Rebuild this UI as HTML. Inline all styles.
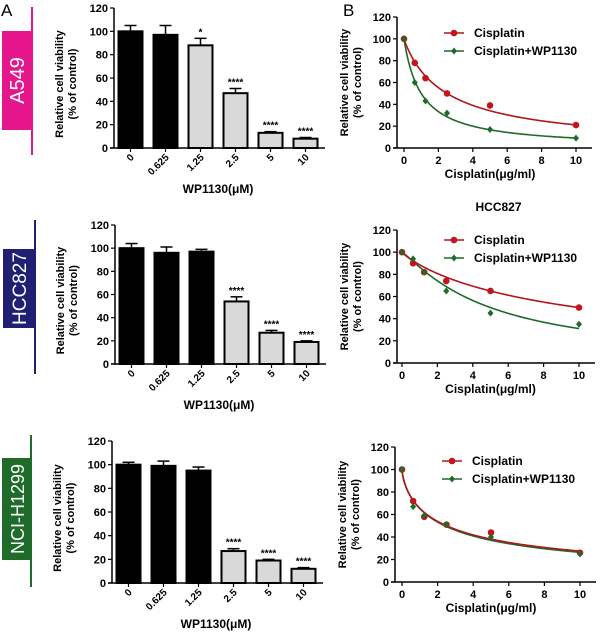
<!DOCTYPE html>
<html><head><meta charset="utf-8">
<style>
html,body{margin:0;padding:0;background:#fff;}
svg{display:block;font-family:"Liberation Sans",Arial,sans-serif;}
</style></head>
<body>
<svg id="fig" width="600" height="635" viewBox="0 0 600 635"></svg>
<script>
// ---- data ----
const doseLabels = ["0","0.625","1.25","2.5","5","10"];
const a549Values = [100,97,88,47,13,8];
const a549Errors = [5,8,6,4,1,1];
const a549Stars = ["","","*","****","****","****"];
const hccValues = [100,96,97,54,27,19];
const hccErrors = [4,5,2,4,2,1];
const hccStars = ["","","","****","****","****"];
const nciValues = [100,99,95,27,19,12];
const nciErrors = [2,4,3,2,1,1];
const nciStars = ["","","","****","****","****"];
const yTicks = [0,20,40,60,80,100,120];
const xTicksB = [0,2,4,6,8,10];
const cisX = [0,0.625,1.25,2.5,5,10];
const b1Cis = [100,78,64,50,39,21];
const b1Combo = [100,60,43,32,17,9];
const b2Cis = [100,90,82,74,65,50];
const b2Combo = [100,94,82,65,45,35];
const b3Cis = [100,72,58,51,44,26];
const b3Combo = [100,67,59,51,40,25];
// fit parameters [ic50, hill] for each curve
const b1CisFit = [2.5,0.95], b1ComboFit = [1.0,1.0];
const b2CisFit = [10,0.89], b2ComboFit = [5,1.15];
const b3CisFit = [2.5,0.7], b3ComboFit = [2.4,0.72];

const NS="http://www.w3.org/2000/svg";
const svg=document.getElementById('fig');
function el(tag,attrs,parent,text){const e=document.createElementNS(NS,tag);for(const k in attrs)e.setAttribute(k,attrs[k]);if(text!==undefined)e.textContent=text;(parent||svg).appendChild(e);return e;}

let t=el('text',{x:1,y:16,'font-size':17},svg,'A');


t=el('text',{x:343,y:16,'font-size':17},svg,'B');



function tag(name,label,color,lx,ly1,ly2,bx,by,bw,bh,fs){
  const g=el('g',{});
  
  
  el('line',{x1:lx,y1:ly1,x2:lx,y2:ly2,stroke:color,'stroke-width':2},g);
  el('rect',{x:bx,y:by,width:bw,height:bh,fill:color},g);
  el('text',{x:0,y:0,fill:'#fff','font-size':fs,'text-anchor':'middle',transform:`translate(${bx+bw/2+7},${by+bh/2}) rotate(-90)`},g,label);
}
tag('a549-tag','A549','#e5168c',32,7,155,2,31,30,99,20);
tag('hcc827-tag','HCC827','#1f1f73',35,220,374,3,249,32,79,19);
tag('nci-h1299-tag','NCI-H1299','#1e6b2a',31,435,587,2,458,30,102,18);

function yLabel(g,cx,cy){
  el('text',{x:0,y:0,'font-size':11,'font-weight':'bold','text-anchor':'middle',transform:`translate(${cx-6},${cy}) rotate(-90)`},g,'Relative cell viability');
  el('text',{x:0,y:0,'font-size':11,'font-weight':'bold','text-anchor':'middle',transform:`translate(${cx+7},${cy}) rotate(-90)`},g,'(% of control)');
}

function barChart(name,ax,y0,y120,vals,errs,stars){
  const g=el('g',{});
  
  
  const ys=v=>y0-(y0-y120)*v/120;
  const xc=i=>ax+16.5+i*35;
  el('line',{x1:ax,y1:y120,x2:ax,y2:y0,stroke:'#000','stroke-width':1.5},g);
  el('line',{x1:ax-4,y1:y0,x2:ax+211,y2:y0,stroke:'#000','stroke-width':1.5},g);
  yTicks.forEach(v=>{
    el('line',{x1:ax-4,y1:ys(v),x2:ax,y2:ys(v),stroke:'#000','stroke-width':1.2},g);
    el('text',{x:ax-6,y:ys(v)+4,'font-size':11,'font-weight':'bold','text-anchor':'end'},g,String(v));
  });
  yLabel(g,ax-45,(y0+y120)/2+6);
  vals.forEach((v,i)=>{
    const x=xc(i),top=ys(v),etop=ys(v+errs[i]);
    const grey=i>=3||(name==='a549-bars'&&i===2);
    el('line',{x1:x,y1:etop,x2:x,y2:top,stroke:'#000','stroke-width':1.5},g);
    el('line',{x1:x-6,y1:etop,x2:x+6,y2:etop,stroke:'#000','stroke-width':1.5},g);
    const r=el('rect',{x:x-12,y:top,width:24,height:y0-top,fill:grey?'#d9d9d9':'#000',stroke:'#000','stroke-width':2},g);
    
    
    if(stars[i]) el('text',{x:x,y:etop-3,'font-size':10,'font-weight':'bold','text-anchor':'middle'},g,stars[i]);
    el('line',{x1:x,y1:y0,x2:x,y2:y0+4,stroke:'#000','stroke-width':1.2},g);
    el('text',{x:0,y:0,'font-size':10,'font-weight':'bold','text-anchor':'end',transform:`translate(${x+4},${y0+10}) rotate(-45)`},g,doseLabels[i]);
  });
  el('text',{x:ax+104,y:y0+45,'font-size':12,'font-weight':'bold','text-anchor':'middle'},g,'WP1130(μM)');
}
barChart('a549-bars',114,148,8,a549Values,a549Errors,a549Stars);
barChart('hcc827-bars',115,364,225,hccValues,hccErrors,hccStars);
barChart('nci-h1299-bars',112,583,441,nciValues,nciErrors,nciStars);

function curveChart(name,ax,y0,y120,x0,x10,cis,combo,cf,gf,title,legY){
  const g=el('g',{});
  
  
  const ys=v=>y0-(y0-y120)*v/120;
  const xs=v=>x0+(x10-x0)*v/10;
  el('line',{x1:ax,y1:y120,x2:ax,y2:y0,stroke:'#000','stroke-width':1.5},g);
  el('line',{x1:ax-4,y1:y0,x2:x10+16,y2:y0,stroke:'#000','stroke-width':1.5},g);
  yTicks.forEach(v=>{
    el('line',{x1:ax-4,y1:ys(v),x2:ax,y2:ys(v),stroke:'#000','stroke-width':1.2},g);
    el('text',{x:ax-6,y:ys(v)+4,'font-size':11,'font-weight':'bold','text-anchor':'end'},g,String(v));
  });
  xTicksB.forEach(v=>{
    el('line',{x1:xs(v),y1:y0,x2:xs(v),y2:y0+4,stroke:'#000','stroke-width':1.2},g);
    el('text',{x:xs(v),y:y0+16,'font-size':11,'font-weight':'bold','text-anchor':'middle'},g,String(v));
  });
  yLabel(g,ax-43,(y0+y120)/2);
  el('text',{x:(x0+x10)/2,y:y0+30,'font-size':12,'font-weight':'bold','text-anchor':'middle'},g,'Cisplatin(μg/ml)');
  if(title) el('text',{x:(x0+x10)/2+8,y:y120-19,'font-size':12,'font-weight':'bold','text-anchor':'middle'},g,title);
  function fit(p,color,nm){
    let d='';
    for(let k=0;k<=200;k++){const x=10*Math.pow(k/200,2);const y=100/(1+Math.pow(x/p[0],p[1]));d+=(k?'L':'M')+xs(x).toFixed(2)+','+ys(y).toFixed(2);}
    const pth=el('path',{d:d,fill:'none',stroke:color,'stroke-width':1.6},g);
    
    
  }
  fit(gf,'#1e6b2a','combo-fit-curve');
  fit(cf,'#b0161c','cisplatin-fit-curve');
  cis.forEach((v,i)=>{
    const c=el('circle',{cx:xs(cisX[i]),cy:ys(v),r:3.3,fill:'#c0161c'},g);
    
    
  });
  combo.forEach((v,i)=>{
    const x=xs(cisX[i]),y=ys(v);
    const p=el('polygon',{points:`${x},${y-3.5} ${x+3},${y} ${x},${y+3.5} ${x-3},${y}`,fill:'#1e6b2a'},g);
    
    
  });
  const lx=ax+47;
  const l1=el('g',{},g);
  
  
  el('line',{x1:lx,y1:legY,x2:lx+20,y2:legY,stroke:'#b0161c','stroke-width':1.6},l1);
  el('circle',{cx:lx+10,cy:legY,r:3.3,fill:'#c0161c'},l1);
  el('text',{x:lx+30,y:legY+4,'font-size':12,'font-weight':'bold'},l1,'Cisplatin');
  const l2=el('g',{},g);
  
  
  const y2=legY+18;
  el('line',{x1:lx,y1:y2,x2:lx+20,y2:y2,stroke:'#1e6b2a','stroke-width':1.6},l2);
  el('polygon',{points:`${lx+10},${y2-3.5} ${lx+13},${y2} ${lx+10},${y2+3.5} ${lx+7},${y2}`,fill:'#1e6b2a'},l2);
  el('text',{x:lx+30,y:y2+4,'font-size':12,'font-weight':'bold'},l2,'Cisplatin+WP1130');
}
curveChart('b-a549-curves',397,148,17,404,576,b1Cis,b1Combo,b1CisFit,b1ComboFit,'',33);
curveChart('b-hcc827-curves',397,363,230,402,579,b2Cis,b2Combo,b2CisFit,b2ComboFit,'HCC827',240);
curveChart('b-nci-h1299-curves',395,582,447,402,580,b3Cis,b3Combo,b3CisFit,b3ComboFit,'',461);
</script>
</body></html>
